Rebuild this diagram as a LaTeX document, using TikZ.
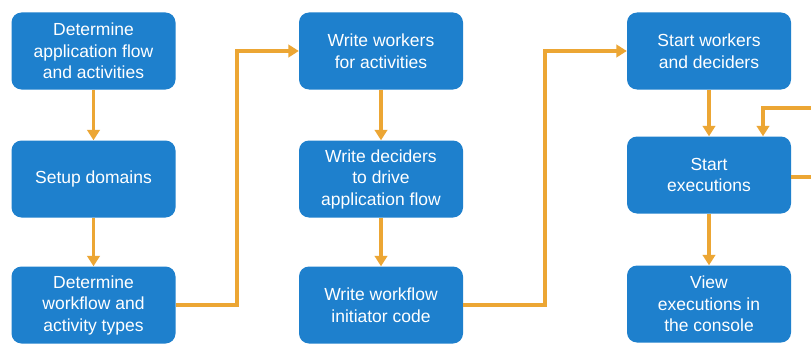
\documentclass[tikz,border=0pt]{standalone}
\usepackage{fontspec}
\setmainfont{Liberation Sans}
\usetikzlibrary{arrows.meta}
\definecolor{boxblue}{RGB}{30,128,205}
\definecolor{flowline}{RGB}{236,166,52}
\begin{document}
\begin{tikzpicture}[x=1pt,y=-1pt,
  stepbox/.style={draw=none,fill=boxblue,rounded corners=10pt,
    minimum width=164pt,minimum height=77pt,inner sep=0pt,
    text=white,align=center,
    font=\fontsize{17.5}{21.5}\selectfont},
  flow/.style={draw=flowline,line width=3.3pt,
    -{Triangle[width=12.5pt,length=10.5pt]}},
  plain/.style={draw=flowline,line width=3.3pt}]
\useasboundingbox[fill=white] (0,0) rectangle (811,345);

% first column
\node[stepbox] (c1a) at (93.5,51) {Determine\\application flow\\and activities};
\node[stepbox] (c1b) at (93.5,179) {Setup domains};
\node[stepbox] (c1c) at (93.5,305) {Determine\\workflow and\\activity types};

% second column
\node[stepbox] (c2a) at (381,51) {Write workers\\for activities};
\node[stepbox] (c2b) at (381,179) {Write deciders\\to drive\\application flow};
\node[stepbox] (c2c) at (381,305) {Write workflow\\initiator code};

% third column
\node[stepbox] (c3a) at (709,51) {Start workers\\and deciders};
\node[stepbox] (c3b) at (709,175) {Start\\executions};
\node[stepbox] (c3c) at (709,304) {View\\executions in\\the console};

% bend points and loop ends at the right edge
\coordinate (b1) at (237,0);
\coordinate (b2) at (545,0);
\coordinate (loopout) at (811,177);
\coordinate (loopin) at (811,108);
\coordinate (loopx) at (763,0);

% vertical steps
\draw[flow] (c1a) -- (c1b);
\draw[flow] (c1b) -- (c1c);
\draw[flow] (c2a) -- (c2b);
\draw[flow] (c2b) -- (c2c);
\draw[flow] (c3a) -- (c3b);
\draw[flow] (c3b) -- (c3c);

% column-to-column links
\draw[flow] (c1c.east) -- (c1c.east -| b1) -- (b1 |- c2a.west) -- (c2a.west);
\draw[flow] (c2c.east) -- (c2c.east -| b2) -- (b2 |- c3a.west) -- (c3a.west);

% repeat loop around the executions step
\draw[plain] (c3b.east |- loopout) -- (loopout);
\draw[flow] (loopin) -- (loopin -| loopx) -- (loopx |- c3b.north);
\end{tikzpicture}
\end{document}
